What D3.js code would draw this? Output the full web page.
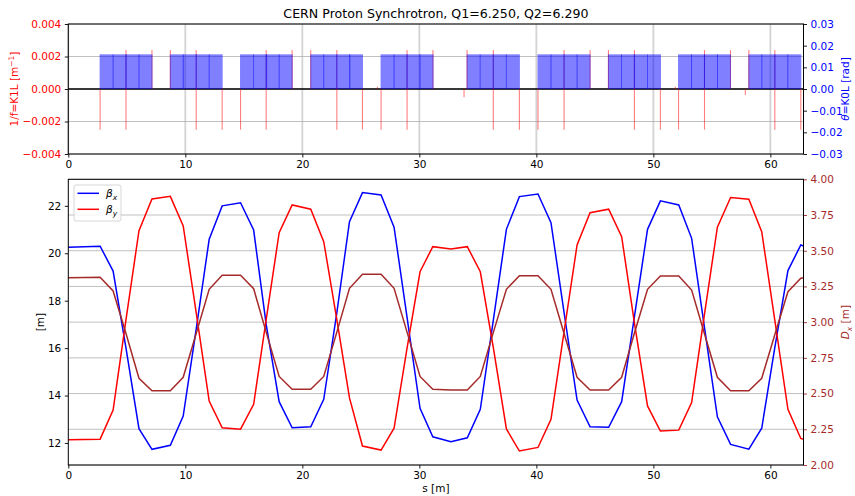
<!DOCTYPE html>
<html><head><meta charset="utf-8">
<script src="https://cdn.jsdelivr.net/npm/d3@7"></script>
<style>
body{margin:0;background:#fff}
svg{display:block}
text{font-family:"DejaVu Sans",sans-serif}
</style>
</head><body>
<svg id="c" width="855" height="496"></svg>
<script>
// ---------------- data ----------------
const chartTitle = "CERN Proton Synchrotron, Q1=6.250, Q2=6.290";
const ringLength = 62.83;
const xTicks = [0, 10, 20, 30, 40, 50, 60];
const k1lTicks = [-0.004, -0.002, 0, 0.002, 0.004];
const k0lTicks = [-0.03, -0.02, -0.01, 0, 0.01, 0.02, 0.03];
const betaTicks = [12, 14, 16, 18, 20, 22];
const dxTicks = [2.0, 2.25, 2.5, 2.75, 3.0, 3.25, 3.5, 3.75, 4.0];

// dipoles: start position [m], length [m], kick K0L [rad]
const dipoleStart = [
  2.72, 3.83, 4.93, 6.04,
  8.72, 9.82, 10.93, 12.04,
  14.72, 15.84, 16.91, 18.02,
  20.72, 21.83, 22.95, 24.03,
  26.73, 27.84, 28.95, 30.06,
  34.08, 35.20, 36.32, 37.44,
  40.14, 41.25, 42.37, 43.48,
  46.16, 47.28, 48.38, 49.50,
  52.15, 53.26, 54.37, 55.48,
  58.16, 59.27, 60.38, 61.49
];
const dipoleLength = 1.11;
const dipoleK0L = 0.016;

// thin quadrupoles / correctors: position [m] and K1L [1/m]
const quadS = [
  2.72, 4.93, 4.93, 7.15,
  8.72, 10.93, 10.93, 13.15,
  14.72, 16.91, 16.91, 19.13,
  20.72, 22.95, 22.95, 25.14,
  26.42,
  26.73, 28.95, 28.95, 31.16,
  33.82,
  34.08, 36.32, 36.32, 38.55,
  40.14, 42.37, 42.37, 44.59,
  46.16, 48.38, 48.38, 50.60,
  51.88,
  52.15, 54.37, 54.37, 56.59,
  57.86,
  58.16, 60.38, 60.38, 62.60
];
const quadK1L = [
  -0.0025, 0.0024, -0.0025, 0.0024,
  0.0024, 0.0024, -0.0025, -0.0025,
  -0.0025, 0.0024, -0.0025, 0.0024,
  0.0024, 0.0024, -0.0025, -0.0025,
  0.00014,
  -0.0025, 0.0024, -0.0025, 0.0024,
  -0.0005,
  0.0024, 0.0024, -0.0025, -0.0025,
  -0.0025, 0.0024, -0.0025, 0.0024,
  0.0024, 0.0024, -0.0025, -0.0025,
  0.00014,
  -0.0025, 0.0024, -0.0025, 0.0024,
  -0.00037,
  0.0024, 0.0024, -0.0025, -0.0025
];

// optics
const sPos = [0, 2.72, 3.83, 4.93, 6.04, 7.15, 8.72, 9.82, 10.93, 12.04, 13.15,
  14.72, 15.84, 16.91, 18.02, 19.13, 20.72, 21.83, 22.95, 24.03, 25.14,
  26.73, 27.84, 28.95, 30.06, 31.15, 32.7, 34.1, 35.21, 36.33, 37.44, 38.55,
  40.14, 41.25, 42.37, 43.48, 44.59, 46.18, 47.29, 48.37, 49.5, 50.6,
  52.17, 53.27, 54.36, 55.47, 56.6, 58.16, 59.26, 60.37, 61.5, 62.6, 62.83];
const betx = [20.25, 20.3, 19.25, 16.0, 12.6, 11.73, 11.9, 13.13, 16.8, 20.59, 22.0,
  22.13, 20.98, 17.0, 13.74, 12.64, 12.68, 13.84, 17.5, 21.33, 22.56,
  22.46, 21.1, 17.3, 13.46, 12.26, 12.05, 12.22, 13.42, 17.2, 21.01, 22.39,
  22.5, 21.29, 17.5, 13.81, 12.68, 12.66, 13.74, 17.3, 21.01, 22.21,
  22.04, 20.63, 16.9, 13.1, 11.94, 11.74, 12.62, 16.0, 19.27, 20.35, 20.31];
const bety = [12.13, 12.16, 13.39, 17.2, 20.95, 22.29, 22.4, 21.15, 17.5, 13.77, 12.64,
  12.58, 13.63, 17.2, 20.87, 22.04, 21.86, 20.49, 17.2, 13.9, 11.87,
  11.7, 12.62, 16.0, 19.22, 20.28, 20.18, 20.28, 19.22, 16.0, 12.59, 11.66,
  11.81, 13.0, 16.7, 20.35, 21.71, 21.86, 20.7, 17.1, 13.56, 12.5,
  12.54, 13.7, 17.4, 21.1, 22.35, 22.28, 20.91, 17.2, 13.42, 12.19, 12.15];
const dxVal = [3.311, 3.314, 3.218, 2.92, 2.607, 2.52, 2.52, 2.614, 2.92, 3.23, 3.328,
  3.328, 3.234, 2.93, 2.62, 2.53, 2.53, 2.62, 2.93, 3.237, 3.335,
  3.335, 3.237, 2.93, 2.62, 2.53, 2.525, 2.525, 2.62, 2.93, 3.23, 3.325,
  3.325, 3.23, 2.92, 2.614, 2.525, 2.525, 2.614, 2.92, 3.23, 3.323,
  3.323, 3.225, 2.92, 2.614, 2.52, 2.52, 2.607, 2.91, 3.213, 3.307, 3.311];

const legendLabels = [["β", "x"], ["β", "y"]];

// ---------------- layout ----------------
const svg = d3.select("#c");
const L = 68.3, R = 803.5;
const top1 = 24, bot1 = 154;
const top2 = 179.3, bot2 = 465;
const FS = 10.5;
const BROWN = "#a52a2a";

const x = d3.scaleLinear().domain([0, ringLength]).range([L, R]);
const yK1 = d3.scaleLinear().domain([-0.004, 0.004]).range([bot1, top1]);
const yK0 = d3.scaleLinear().domain([-0.03, 0.03]).range([bot1, top1]);
const yB = d3.scaleLinear().domain([11.07, 23.12]).range([bot2, top2]);
const yD = d3.scaleLinear().domain([2.0, 4.0]).range([bot2, top2]);

// ---------- top panel ----------
const g1 = svg.append("g");
// grid
g1.selectAll(".vg").data(xTicks).join("line")
  .attr("x1", d => x(d)).attr("x2", d => x(d)).attr("y1", top1).attr("y2", bot1)
  .attr("stroke", "#d3d3d3").attr("stroke-width", 1.8);
g1.selectAll(".hg").data(k1lTicks).join("line")
  .attr("x1", L).attr("x2", R).attr("y1", d => yK1(d)).attr("y2", d => yK1(d))
  .attr("stroke", "#b0b0b0").attr("stroke-width", 0.8);
// zero line
g1.append("line").attr("x1", L).attr("x2", R).attr("y1", yK1(0)).attr("y2", yK1(0))
  .attr("stroke", "#000").attr("stroke-width", 1.5);
// quads
g1.selectAll(".q").data(quadS.map((s, i) => [s, quadK1L[i]])).join("line")
  .attr("x1", d => x(d[0])).attr("x2", d => x(d[0]))
  .attr("y1", yK1(0)).attr("y2", d => yK1(d[1]))
  .attr("stroke", "red").attr("stroke-opacity", 0.5).attr("stroke-width", 1.1);
// dipoles
g1.selectAll(".d").data(dipoleStart).join("rect")
  .attr("x", d => x(d) - 0.5)
  .attr("width", d => x(d + dipoleLength) - x(d) + 1)
  .attr("y", yK0(dipoleK0L)).attr("height", yK0(0) - yK0(dipoleK0L))
  .attr("fill", "blue").attr("fill-opacity", 0.5);

// axes top
function styleAxis(sel, col, tickCol) {
  sel.selectAll("text").attr("fill", col).style("font-size", FS + "px").style("font-family", "DejaVu Sans");
  sel.selectAll(".tick line").attr("stroke", tickCol || "#000").attr("stroke-width", 0.9);
  sel.select(".domain").remove();
}
const axL1 = g1.append("g").attr("transform", `translate(${L},0)`)
  .call(d3.axisLeft(yK1).tickValues(k1lTicks).tickFormat(d3.format(".3f")).tickSize(3.5).tickPadding(3.5));
styleAxis(axL1, "red");
const axR1 = g1.append("g").attr("transform", `translate(${R},0)`)
  .call(d3.axisRight(yK0).tickValues(k0lTicks).tickFormat(d3.format(".2f")).tickSize(3.5).tickPadding(3.5));
styleAxis(axR1, "blue");
const axB1 = g1.append("g").attr("transform", `translate(0,${bot1})`)
  .call(d3.axisBottom(x).tickValues(xTicks).tickFormat(d3.format("d")).tickSize(3.5).tickPadding(3.5));
styleAxis(axB1, "#000");
g1.append("rect").attr("x", L).attr("y", top1).attr("width", R - L).attr("height", bot1 - top1)
  .attr("fill", "none").attr("stroke", "#000").attr("stroke-width", 1);

// title
svg.append("text").attr("x", (L + R) / 2).attr("y", 18.3).attr("text-anchor", "middle")
  .style("font-size", "12.6px").attr("fill", "#000").text(chartTitle);

// top labels
const lab1 = svg.append("text").attr("transform", `translate(17.5,${(top1 + bot1) / 2}) rotate(-90)`)
  .attr("text-anchor", "middle").attr("fill", "red").style("font-size", FS + "px");
lab1.append("tspan").text("1/f=K1L [m");
lab1.append("tspan").attr("dy", -4).style("font-size", "7.5px").text("−1");
lab1.append("tspan").attr("dy", 4).text("]");
const lab2 = svg.append("text").attr("transform", `translate(849,${(top1 + bot1) / 2}) rotate(-90)`)
  .attr("text-anchor", "middle").attr("fill", "blue").style("font-size", FS + "px");
lab2.append("tspan").style("font-style", "italic").text("θ");
lab2.append("tspan").text("=K0L [rad]");

// ---------- bottom panel ----------
const g2 = svg.append("g");
g2.selectAll(".hg2").data(dxTicks).join("line")
  .attr("x1", L).attr("x2", R).attr("y1", d => yD(d)).attr("y2", d => yD(d))
  .attr("stroke", "#b0b0b0").attr("stroke-width", 0.8);

const lineB = d3.line().x((d, i) => x(sPos[i])).y(d => yB(d));
const lineD = d3.line().x((d, i) => x(sPos[i])).y(d => yD(d));
g2.append("path").datum(betx).attr("d", lineB).attr("fill", "none").attr("stroke", "blue").attr("stroke-width", 1.5);
g2.append("path").datum(bety).attr("d", lineB).attr("fill", "none").attr("stroke", "red").attr("stroke-width", 1.5);
g2.append("path").datum(dxVal).attr("d", lineD).attr("fill", "none").attr("stroke", BROWN).attr("stroke-width", 1.5);

const axL2 = g2.append("g").attr("transform", `translate(${L},0)`)
  .call(d3.axisLeft(yB).tickValues(betaTicks).tickFormat(d3.format("d")).tickSize(3.5).tickPadding(3.5));
styleAxis(axL2, "#000");
const axR2 = g2.append("g").attr("transform", `translate(${R},0)`)
  .call(d3.axisRight(yD).tickValues(dxTicks).tickFormat(d3.format(".2f")).tickSize(3.5).tickPadding(3.5));
styleAxis(axR2, BROWN, BROWN);
const axB2 = g2.append("g").attr("transform", `translate(0,${bot2})`)
  .call(d3.axisBottom(x).tickValues(xTicks).tickFormat(d3.format("d")).tickSize(3.5).tickPadding(3.5));
styleAxis(axB2, "#000");
g2.append("rect").attr("x", L).attr("y", top2).attr("width", R - L).attr("height", bot2 - top2)
  .attr("fill", "none").attr("stroke", "#000").attr("stroke-width", 1);

// labels bottom
svg.append("text").attr("transform", `translate(43.5,${(top2 + bot2) / 2}) rotate(-90)`)
  .attr("text-anchor", "middle").style("font-size", FS + "px").attr("fill", "#000").text("[m]");
const lab3 = svg.append("text").attr("transform", `translate(849,${(top2 + bot2) / 2}) rotate(-90)`)
  .attr("text-anchor", "middle").attr("fill", BROWN).style("font-size", FS + "px");
lab3.append("tspan").style("font-style", "italic").text("D");
lab3.append("tspan").attr("dy", 2.5).style("font-size", "7.5px").style("font-style", "italic").text("x");
lab3.append("tspan").attr("dy", -2.5).text(" [m]");
svg.append("text").attr("x", (L + R) / 2).attr("y", 492).attr("text-anchor", "middle")
  .style("font-size", FS + "px").attr("fill", "#000").text("s [m]");

// legend
const lg = svg.append("g");
lg.append("rect").attr("x", 74).attr("y", 185).attr("width", 47).attr("height", 36).attr("rx", 2)
  .attr("fill", "#fff").attr("fill-opacity", 0.8).attr("stroke", "#cccccc").attr("stroke-width", 0.8);
const legColors = ["blue", "red"];
legendLabels.forEach((lbl, i) => {
  const yy = 193.3 + i * 16;
  lg.append("line").attr("x1", 77.5).attr("x2", 99).attr("y1", yy).attr("y2", yy)
    .attr("stroke", legColors[i]).attr("stroke-width", 1.5);
  const t = lg.append("text").attr("x", 106).attr("y", yy + 3.8).style("font-size", FS + "px").attr("fill", "#000");
  t.append("tspan").style("font-style", "italic").text(lbl[0]);
  t.append("tspan").attr("dy", 2.5).style("font-size", "7.5px").style("font-style", "italic").text(lbl[1]);
});
</script>
</body></html>
